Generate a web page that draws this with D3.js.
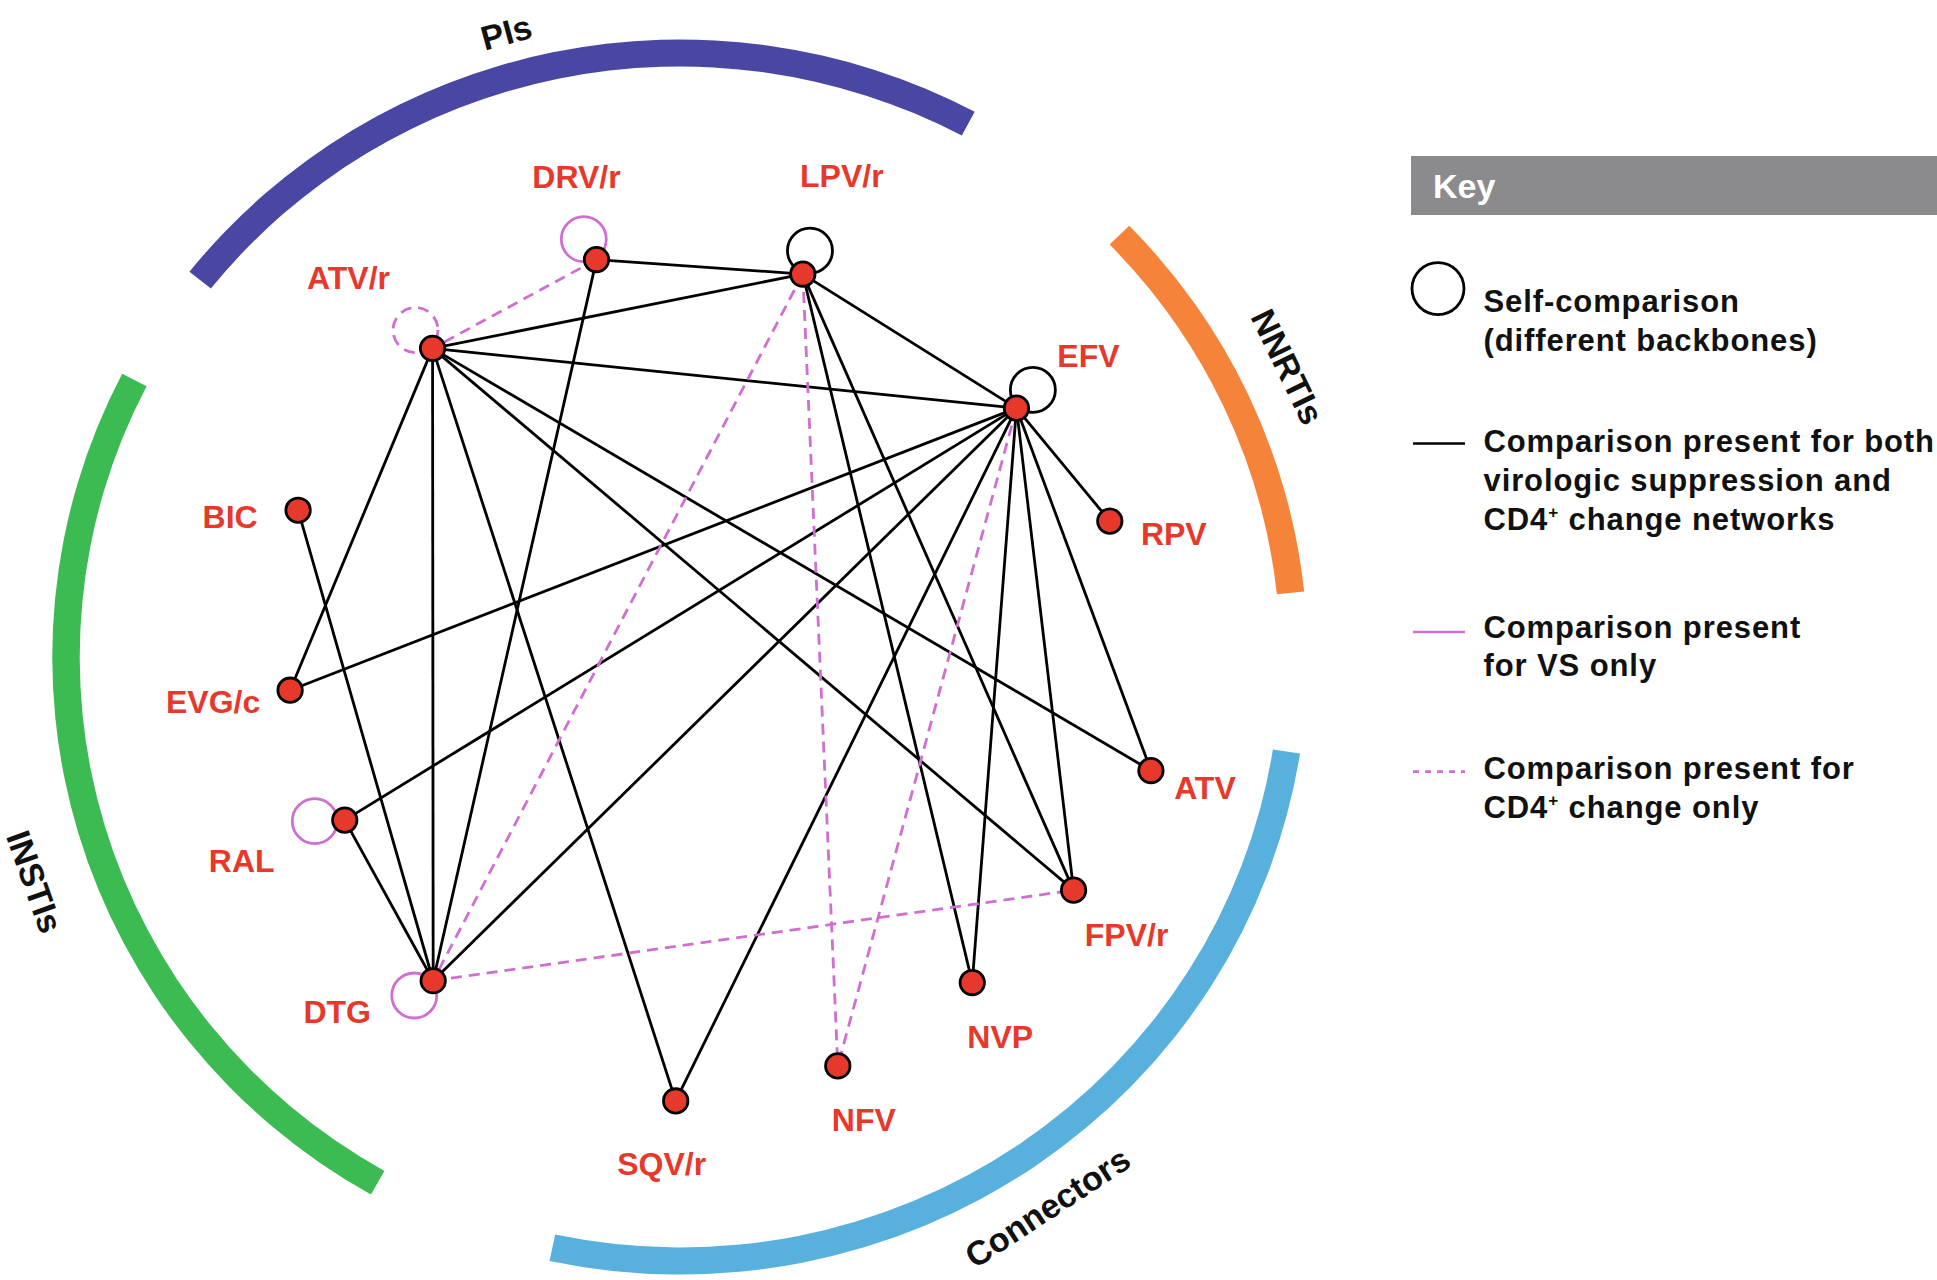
<!DOCTYPE html>
<html>
<head>
<meta charset="utf-8">
<script src="https://cdn.jsdelivr.net/npm/d3@7"></script>
<style>
  html, body { margin: 0; padding: 0; background: #fff; }
  svg { display: block; }
  text { font-family: "Liberation Sans", Arial, Helvetica, sans-serif; font-weight: bold; }
</style>
</head>
<body>
<svg id="chart"></svg>
<script>
// drug classes round the ring (degrees, clockwise from 12 o'clock)
var classNames = ["PIs", "NNRTIs", "Connectors", "INSTIs"]
var classStart = [-51.4, 45.7, 99, 209.5]
var classEnd = [28, 83.9, 192, 297.3]
var classLabelAngle = [-15.3, 64.1, 146.7, 250.5]
var classColors = ["#4a47a4", "#f5843a", "#58b1dd", "#3bbb52"]

// regimens, position in ring units (ring centre = 0,0, ring radius = 1)
var drugNames = ["DRV/r", "LPV/r", "ATV/r", "EFV", "RPV", "ATV", "FPV/r", "NVP", "NFV", "SQV/r", "DTG", "RAL", "EVG/c", "BIC"]
var drugX = [-0.136, 0.200, -0.403, 0.548, 0.700, 0.767, 0.641, 0.476, 0.257, -0.007, -0.402, -0.546, -0.635, -0.622]
var drugY = [-0.658, -0.634, -0.511, -0.412, -0.225, 0.188, 0.386, 0.539, 0.677, 0.735, 0.536, 0.270, 0.055, -0.243]

// comparisons present for both VS and CD4+ networks
var bothEdges = [
    ["DRV/r", "LPV/r"], ["DRV/r", "DTG"], ["LPV/r", "ATV/r"], ["LPV/r", "EFV"], ["LPV/r", "NVP"], ["LPV/r", "FPV/r"],
    ["ATV/r", "EFV"], ["ATV/r", "EVG/c"], ["ATV/r", "DTG"], ["ATV/r", "SQV/r"], ["ATV/r", "ATV"], ["ATV/r", "FPV/r"],
    ["EFV", "EVG/c"], ["EFV", "RAL"], ["EFV", "DTG"], ["EFV", "SQV/r"], ["EFV", "NVP"], ["EFV", "FPV/r"],
    ["EFV", "ATV"], ["EFV", "RPV"], ["BIC", "DTG"], ["RAL", "DTG"]
]
// comparisons present for CD4+ change only
var cd4Edges = [["DRV/r", "ATV/r"], ["LPV/r", "DTG"], ["LPV/r", "NFV"], ["EFV", "NFV"], ["DTG", "FPV/r"]]

// self-comparisons (different backbones)
var selfNames = ["DRV/r", "LPV/r", "ATV/r", "EFV", "RAL", "DTG"]
var selfType = ["vs", "both", "cd4", "both", "vs", "vs"]

// legend
var keyTitle = "Key"
var keyTypes = ["self", "both", "vs", "cd4"]
var keyLines = [
    ["Self-comparison", "(different backbones)"],
    ["Comparison present for both", "virologic suppression and", "CD4+ change networks"],
    ["Comparison present", "for VS only"],
    ["Comparison present for", "CD4+ change only"]
]

//------------------------------------------------------------ layout / style
var W = 1937, H = 1280
var cx = 680, cy = 657, rx = 614, ry = 604
var red = "#e6392b", pink = "#cf6fcf"
var edgeStroke = { both: "#000", vs: pink, cd4: pink }
var edgeDash = { both: null, vs: null, cd4: "11,7" }
var classLabelR = [1.072, 1.1, 1.09, 1.115]
// label offset (px) from each node centre
var labelOffset = {
    "DRV/r": [-20, -83], "LPV/r": [39, -98], "ATV/r": [-84, -70], "EFV": [72, -52], "RPV": [64, 13],
    "ATV": [54, 17], "FPV/r": [53, 45], "NVP": [28, 54], "NFV": [26, 54], "SQV/r": [-14, 63],
    "DTG": [-96, 31], "RAL": [-103, 41], "EVG/c": [-77, 12], "BIC": [-68, 7]
}
// self loop direction (deg, screen) and distance of loop centre from node
var loopDir = { "DRV/r": [-122, 24], "LPV/r": [-73, 24.5], "ATV/r": [-133, 25], "EFV": [-48, 24.5], "RAL": [178, 30], "DTG": [142, 24] }

var xScale = d3.scaleLinear().domain([-1, 1]).range([cx - rx, cx + rx])
var yScale = d3.scaleLinear().domain([-1, 1]).range([cy - ry, cy + ry])
var angle = d3.scaleLinear().domain([0, 360]).range([0, 2 * Math.PI])

var svg = d3.select("#chart").attr("width", W).attr("height", H)
svg.append("rect").attr("width", W).attr("height", H).attr("fill", "#fff")

//------------------------------------------------------------ class ring
var ringArc = d3.arc().innerRadius(ry - 13.5).outerRadius(ry + 13.5)
svg.append("g").attr("transform", "translate(" + cx + "," + cy + ") scale(" + (rx / ry) + ",1)")
    .selectAll("path").data(classNames).join("path")
    .attr("d", (d, i) => ringArc({ startAngle: angle(classStart[i]), endAngle: angle(classEnd[i]) }))
    .attr("fill", (d, i) => classColors[i])

svg.selectAll(".classLabel").data(classNames).join("text").attr("class", "classLabel")
    .attr("transform", (d, i) => {
        var a = angle(classLabelAngle[i]), k = classLabelR[i]
        var x = xScale(k * Math.sin(a)), y = yScale(-k * Math.cos(a))
        var deg = classLabelAngle[i]
        var rot = (deg > 90 && deg < 270) ? deg - 180 : deg
        return "translate(" + x + "," + y + ") rotate(" + rot + ")"
    })
    .attr("text-anchor", "middle").attr("dominant-baseline", "central")
    .attr("font-size", 34).attr("fill", "#111")
    .text(d => d)

//------------------------------------------------------------ network
var pos = {}
drugNames.forEach((d, i) => { pos[d] = [xScale(drugX[i]), yScale(drugY[i])] })

var edges = bothEdges.map(e => ({ a: e[0], b: e[1], type: "both" }))
    .concat(cd4Edges.map(e => ({ a: e[0], b: e[1], type: "cd4" })))

var net = svg.append("g")
net.selectAll(".edge").data(edges).join("line").attr("class", "edge")
    .attr("x1", d => pos[d.a][0]).attr("y1", d => pos[d.a][1])
    .attr("x2", d => pos[d.b][0]).attr("y2", d => pos[d.b][1])
    .attr("stroke", d => edgeStroke[d.type])
    .attr("stroke-width", 2.8)
    .attr("stroke-dasharray", d => edgeDash[d.type])

net.selectAll(".loop").data(selfNames).join("circle").attr("class", "loop")
    .attr("cx", d => pos[d][0] + loopDir[d][1] * Math.cos(loopDir[d][0] * Math.PI / 180))
    .attr("cy", d => pos[d][1] + loopDir[d][1] * Math.sin(loopDir[d][0] * Math.PI / 180))
    .attr("r", 22.5)
    .attr("fill", "none")
    .attr("stroke", (d, i) => edgeStroke[selfType[i]])
    .attr("stroke-width", 2.8)
    .attr("stroke-dasharray", (d, i) => edgeDash[selfType[i]])

net.selectAll(".node").data(drugNames).join("circle").attr("class", "node")
    .attr("cx", d => pos[d][0]).attr("cy", d => pos[d][1])
    .attr("r", 12.2)
    .attr("fill", red).attr("stroke", "#000").attr("stroke-width", 2.8)

net.selectAll(".nodeLabel").data(drugNames).join("text").attr("class", "nodeLabel")
    .attr("x", d => pos[d][0] + labelOffset[d][0])
    .attr("y", d => pos[d][1] + labelOffset[d][1])
    .attr("text-anchor", "middle").attr("dominant-baseline", "central")
    .attr("font-size", 32).attr("fill", red)
    .text(d => d)

//------------------------------------------------------------ key
var key = svg.append("g")
key.append("rect").attr("x", 1411).attr("y", 156).attr("width", W - 1411).attr("height", 59).attr("fill", "#8b8b8d")
key.append("text").attr("x", 1433).attr("y", 198).attr("font-size", 34).attr("fill", "#fff").text(keyTitle)

var rowTop = [311.8, 452.4, 637.6, 779]
var symY = [288.6, 443.5, 632, 771.6]
var lineGap = 38.8

keyTypes.forEach((t, i) => {
    if (t == "self") {
        key.append("circle").attr("cx", 1438).attr("cy", symY[i]).attr("r", 26)
            .attr("fill", "none").attr("stroke", "#000").attr("stroke-width", 2.8)
    } else {
        key.append("line").attr("x1", 1413).attr("x2", 1465).attr("y1", symY[i]).attr("y2", symY[i])
            .attr("stroke", edgeStroke[t]).attr("stroke-width", 2.6).attr("stroke-dasharray", t == "cd4" ? "6,6" : null)
    }
    keyLines[i].forEach((s, j) => {
        var txt = key.append("text").attr("x", 1483.5).attr("y", rowTop[i] + j * lineGap)
            .attr("font-size", 31).attr("letter-spacing", 0.9).attr("fill", "#111")
        if (s.indexOf("CD4+") == 0) {
            txt.append("tspan").text("CD4")
            txt.append("tspan").attr("font-size", 17).attr("dy", -12).text("+")
            txt.append("tspan").attr("dy", 12).text(s.slice(4))
        } else {
            txt.text(s)
        }
    })
})
</script>
</body>
</html>
